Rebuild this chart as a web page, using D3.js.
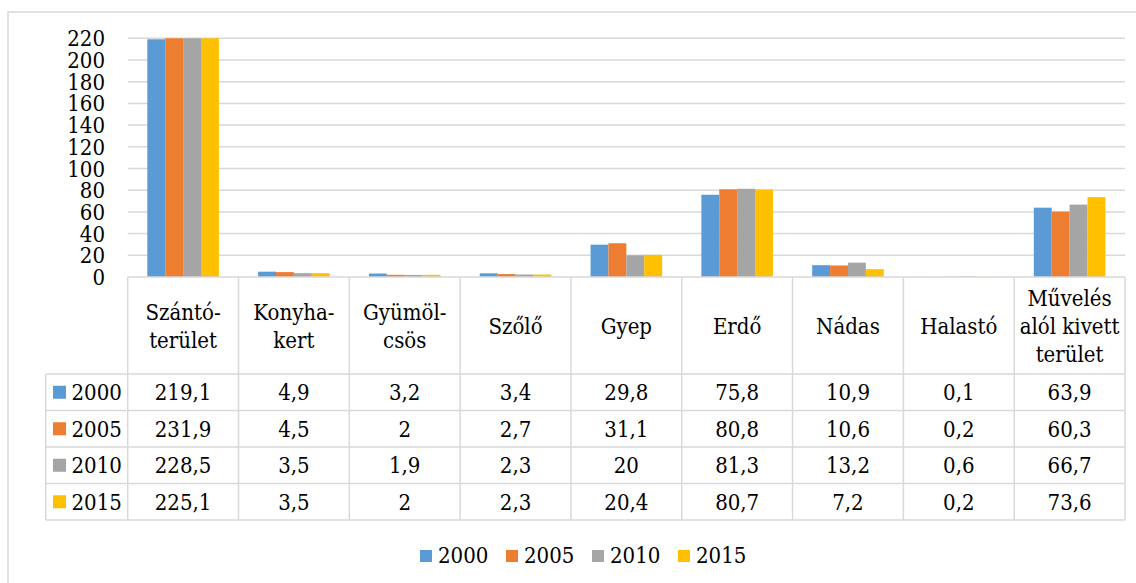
<!DOCTYPE html>
<html>
<head>
<meta charset="utf-8">
<script src="https://cdn.jsdelivr.net/npm/d3@7"></script>
<style>
  body { margin: 0; background: #fff; }
  svg text { font-family: "DejaVu Serif Condensed", "DejaVu Serif", serif; font-stretch: condensed; fill: #000; }
</style>
</head>
<body>
<div id="chart"></div>
<script>
// data
var categories = ["Szántó-terület", "Konyha-kert", "Gyümöl-csös", "Szőlő", "Gyep", "Erdő", "Nádas", "Halastó", "Művelés alól kivett terület"];
var categoryLines = [["Szántó-", "terület"], ["Konyha-", "kert"], ["Gyümöl-", "csös"], ["Szőlő"], ["Gyep"], ["Erdő"], ["Nádas"], ["Halastó"], ["Művelés", "alól kivett", "terület"]];
var years = ["2000", "2005", "2010", "2015"];
var values2000 = [219.1, 4.9, 3.2, 3.4, 29.8, 75.8, 10.9, 0.1, 63.9];
var values2005 = [231.9, 4.5, 2, 2.7, 31.1, 80.8, 10.6, 0.2, 60.3];
var values2010 = [228.5, 3.5, 1.9, 2.3, 20, 81.3, 13.2, 0.6, 66.7];
var values2015 = [225.1, 3.5, 2, 2.3, 20.4, 80.7, 7.2, 0.2, 73.6];
var yTicks = [0, 20, 40, 60, 80, 100, 120, 140, 160, 180, 200, 220];
var colors = ["#5B9BD5", "#ED7D31", "#A5A5A5", "#FFC000"];

var series = [values2000, values2005, values2010, values2015];
var grid = "#d9d9d9";
var fs = 22;

var W = 1136, H = 583;
var svg = d3.select("#chart").append("svg")
  .attr("width", W).attr("height", H);

// outer chart border (only top and left visible)
svg.append("path")
  .attr("d", "M8," + H + "V12H" + W)
  .attr("fill", "none").attr("stroke", grid).attr("stroke-width", 1.5);

var plotLeft = 127.7, plotRight = 1125, plotTop = 38.3, plotBottom = 277;

var x = d3.scaleBand().domain(categories).range([plotLeft, plotRight]).padding(0);
var y = d3.scaleLinear().domain([0, 220]).range([plotBottom, plotTop]);

var groupW = x.bandwidth() * 0.646;
var x1 = d3.scaleBand().domain(years).range([0, groupW]);

// gridlines
svg.append("g").selectAll("line")
  .data(yTicks.filter(function(d) { return d > 0; }))
  .enter().append("line")
    .attr("x1", plotLeft).attr("x2", plotRight)
    .attr("y1", function(d) { return y(d); })
    .attr("y2", function(d) { return y(d); })
    .attr("stroke", grid).attr("stroke-width", 1.5);

// y labels
svg.append("g").selectAll("text")
  .data(yTicks)
  .enter().append("text")
    .attr("x", 105)
    .attr("y", function(d) { return y(d) + 8; })
    .attr("text-anchor", "end")
    .attr("font-size", fs)
    .text(function(d) { return d; });

// bars, clipped at axis max
svg.append("clipPath").attr("id", "plotclip")
  .append("rect").attr("x", plotLeft).attr("y", plotTop)
  .attr("width", plotRight - plotLeft).attr("height", plotBottom - plotTop);

var bars = svg.append("g").attr("clip-path", "url(#plotclip)");
years.forEach(function(yr, si) {
  bars.selectAll(".b" + yr)
    .data(series[si])
    .enter().append("rect")
      .attr("x", function(d, i) { return x(categories[i]) + (x.bandwidth() - groupW) / 2 + x1(yr); })
      .attr("y", function(d) { return y(d); })
      .attr("width", x1.bandwidth())
      .attr("height", function(d) { return plotBottom - y(d); })
      .attr("fill", colors[si]);
});

// data table
var headerBottom = 374, rowH = 36.5;
var tableBottom = headerBottom + rowH * years.length;
var legendColLeft = 45.7;
var lines = svg.append("g").attr("stroke", grid).attr("stroke-width", 1.5);

lines.append("line").attr("x1", plotLeft).attr("x2", plotRight).attr("y1", plotBottom).attr("y2", plotBottom);
var colEdges = categories.map(function(c) { return x(c); }).concat([plotRight]);
colEdges.forEach(function(cx) {
  lines.append("line").attr("x1", cx).attr("x2", cx).attr("y1", plotBottom).attr("y2", tableBottom);
});
d3.range(years.length + 1).forEach(function(r) {
  var ry = headerBottom + r * rowH;
  lines.append("line").attr("x1", legendColLeft).attr("x2", plotRight).attr("y1", ry).attr("y2", ry);
});
lines.append("line").attr("x1", legendColLeft).attr("x2", legendColLeft).attr("y1", headerBottom).attr("y2", tableBottom);

// header labels
var headerMid = (plotBottom + headerBottom) / 2;
categories.forEach(function(c, i) {
  var ls = categoryLines[i];
  var t = svg.append("text")
    .attr("text-anchor", "middle")
    .attr("font-size", fs);
  ls.forEach(function(l, j) {
    t.append("tspan")
      .attr("x", x(c) + x.bandwidth() / 2)
      .attr("y", headerMid + 8 + (j - (ls.length - 1) / 2) * 28)
      .text(l);
  });
});

// table rows
years.forEach(function(yr, si) {
  var rowMid = headerBottom + si * rowH + rowH / 2;
  svg.append("rect")
    .attr("x", 53).attr("y", rowMid - 6.5)
    .attr("width", 13).attr("height", 13)
    .attr("fill", colors[si]);
  svg.append("text")
    .attr("x", 71.5).attr("y", rowMid + 8)
    .attr("font-size", fs)
    .text(yr);
  svg.append("g").selectAll("text")
    .data(series[si])
    .enter().append("text")
      .attr("x", function(d, i) { return x(categories[i]) + x.bandwidth() / 2; })
      .attr("y", rowMid + 8)
      .attr("text-anchor", "middle")
      .attr("font-size", fs)
      .text(function(d) { return String(d).replace(".", ","); });
});

// bottom legend
var legend = svg.append("g").attr("transform", "translate(420,550)");
years.forEach(function(yr, si) {
  var g = legend.append("g").attr("transform", "translate(" + (si * 86) + ",0)");
  g.append("rect").attr("width", 12).attr("height", 12).attr("fill", colors[si]);
  g.append("text").attr("x", 18).attr("y", 13).attr("font-size", fs).text(yr);
});
</script>
</body>
</html>
